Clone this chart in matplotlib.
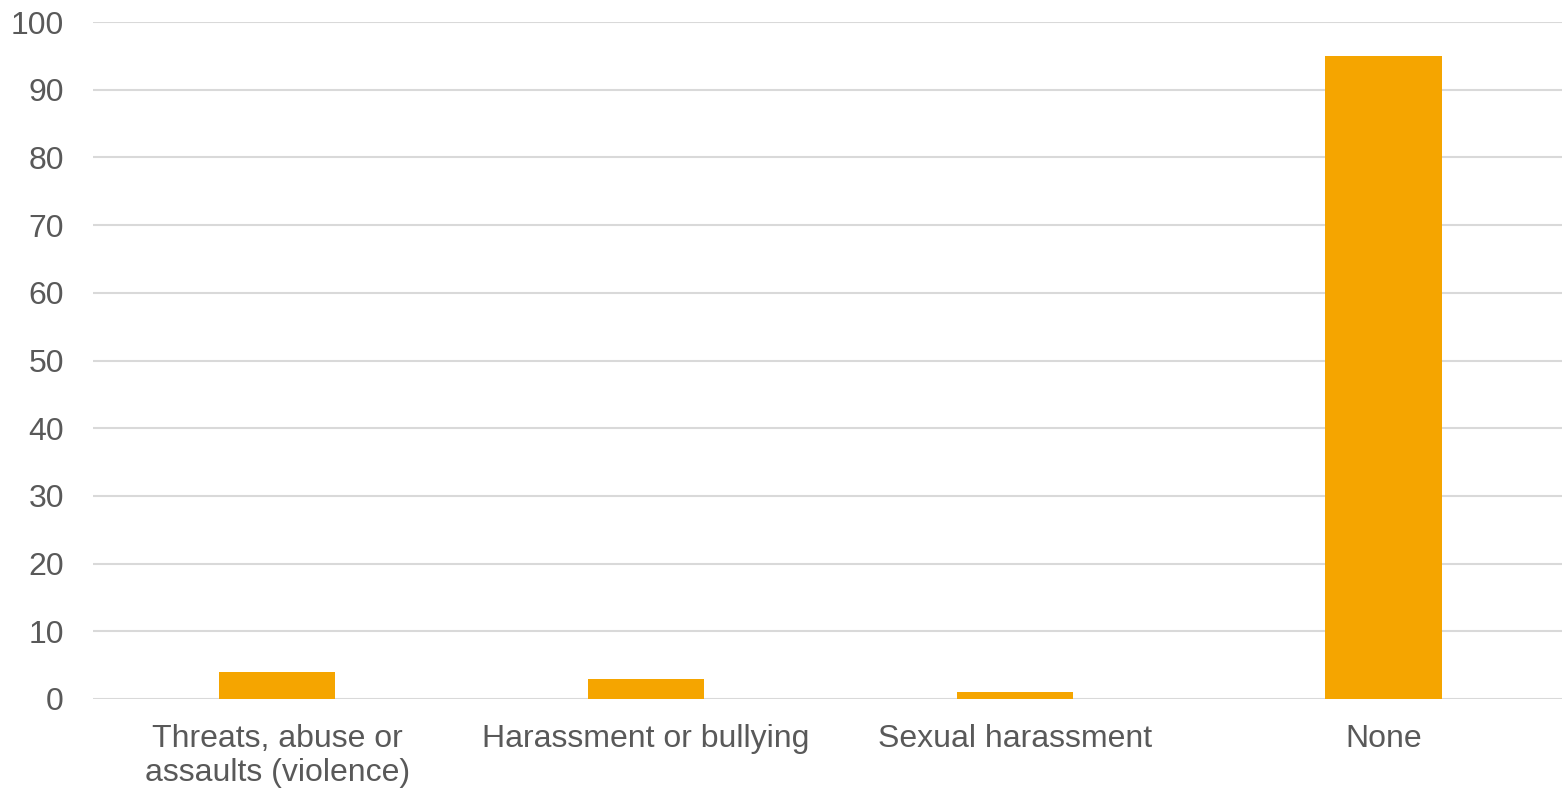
import matplotlib
matplotlib.use("Agg")
import matplotlib.pyplot as plt

# Chart data
categories = ["Threats, abuse or\nassaults (violence)", "Harassment or bullying",
              "Sexual harassment", "None"]
values = [4, 3, 1, 95]
yticks = [0, 10, 20, 30, 40, 50, 60, 70, 80, 90, 100]

plt.rcParams['font.family'] = ['Liberation Sans', 'DejaVu Sans']

fig = plt.figure(figsize=(15.62, 7.91), dpi=100)
ax = fig.add_axes([93/1562, 92/791, (1562-93)/1562, (699-22)/791])

x = range(len(categories))
ax.bar(x, values, width=0.315, color='#F5A500', zorder=3)

ax.set_xlim(-0.5, 3.484)
ax.set_ylim(0, 100)
ax.set_yticks(yticks)
ax.set_xticks(list(x))
ax.set_xticklabels(categories, linespacing=1.17)

for y in yticks:
    ax.axhline(y, color='#D9D9D9', lw=1.5, zorder=1)

for s in ax.spines.values():
    s.set_visible(False)
ax.tick_params(axis='both', length=0, labelsize=23, colors='#595959')
ax.tick_params(axis='y', pad=21)
ax.tick_params(axis='x', pad=18)

fig.savefig("out.png", dpi=100)
